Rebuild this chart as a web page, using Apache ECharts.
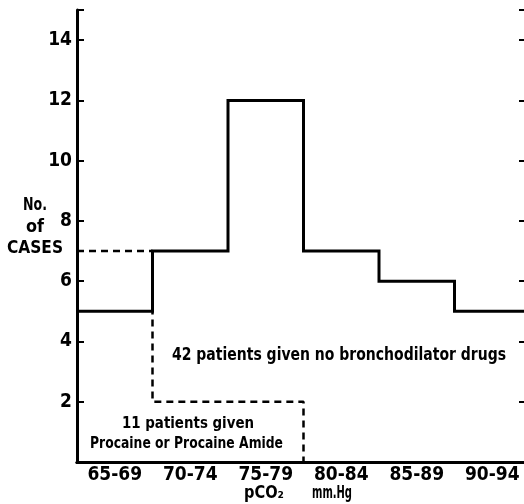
<!DOCTYPE html>
<html>
<head>
<meta charset="utf-8">
<script src="https://cdn.jsdelivr.net/npm/echarts@6/dist/echarts.min.js"></script>
<style>html,body{margin:0;padding:0;background:#fff;}#c{width:524px;height:504px;}</style>
</head>
<body>
<div id="c"></div>
<script>
const categories = ['65-69','70-74','75-79','80-84','85-89','90-94'];
const noDrugCases = [5, 7, 12, 7, 6, 5];
const procaineCases = [7, 2, 2];
const yTicks = [2, 4, 6, 8, 10, 12, 14];
const yTitle = ['No.', 'of', 'CASES'];
const xTitle = ['pCO₂', 'mm.Hg'];
const noteMain = '42 patients given no bronchodilator drugs';
const noteProcaine = ['11 patients given', 'Procaine or Procaine Amide'];

const FONT = '"DejaVu Sans", sans-serif';
const W = 'bold condensed';

const mctx = document.createElement('canvas').getContext('2d');
function fitText(text, size, x, y, targetW, sy) {
  const font = W + ' ' + size + 'px ' + FONT;
  mctx.font = font;
  const w = mctx.measureText(text).width;
  const s = targetW / w;
  return {
    type: 'text', x: x, y: y, scaleX: s, scaleY: sy || 1, originX: 0, originY: 0,
    style: {text: text, fill: '#000', font: font, align: 'left', verticalAlign: 'middle'}
  };
}

function stepPoints(vals, closeToZero) {
  const pts = [];
  vals.forEach((v, i) => { pts.push([i, v]); pts.push([i + 1, v]); });
  if (closeToZero) pts.push([vals.length, 0]);
  return pts;
}

const chart = echarts.init(document.getElementById('c'), null, {renderer: 'canvas'});
chart.setOption({
  animation: false,
  grid: {left: 77, top: 10, width: 453, height: 452, outerBoundsMode: 'none', containLabel: false},
  xAxis: [
    {
      type: 'category', data: categories, position: 'bottom', boundaryGap: true,
      axisLine: {lineStyle: {color: '#000', width: 3}},
      axisTick: {inside: true, length: 6, lineStyle: {color: '#000', width: 2}},
      axisLabel: {interval: 0, color: '#000', fontFamily: FONT, fontWeight: W, fontSize: 19, margin: 4}
    },
    {
      type: 'category', data: categories, position: 'top', boundaryGap: true,
      axisLine: {lineStyle: {color: '#000', width: 3}},
      axisTick: {inside: true, length: 6, lineStyle: {color: '#000', width: 2}},
      axisLabel: {show: false}
    },
    {
      type: 'value', min: 0, max: categories.length, show: false
    }
  ],
  yAxis: [
    {
      type: 'value', min: 0, max: 15, interval: 2, position: 'left',
      splitLine: {show: false},
      axisLine: {show: true, lineStyle: {color: '#000', width: 3}},
      axisTick: {show: true, inside: true, length: 7, lineStyle: {color: '#000', width: 2}},
      axisLabel: {color: '#000', fontFamily: FONT, fontWeight: W, fontSize: 19, margin: 5,
        formatter: v => (yTicks.indexOf(v) >= 0 ? String(v) : '')}
    },
    {
      type: 'value', min: 0, max: 15, interval: 2, position: 'right',
      splitLine: {show: false},
      axisLine: {show: true, lineStyle: {color: '#000', width: 3}},
      axisTick: {show: true, inside: true, length: 11, lineStyle: {color: '#000', width: 2}},
      axisLabel: {show: false}
    }
  ],
  series: [
    {
      type: 'line', xAxisIndex: 2, yAxisIndex: 0, data: stepPoints(noDrugCases, false),
      symbol: 'none', lineStyle: {color: '#000', width: 3, join: 'miter'}, z: 3
    },
    {
      type: 'line', xAxisIndex: 2, yAxisIndex: 0, data: stepPoints(procaineCases, true),
      symbol: 'none', lineStyle: {color: '#000', width: 2.5, type: [7, 5]}, z: 2
    }
  ],
  graphic: [
    fitText(yTitle[0], 18, 23, 205, 24),
    fitText(yTitle[1], 17, 26, 228, 18),
    fitText(yTitle[2], 18, 7, 248, 56),
    fitText(noteMain, 17, 172, 356, 334),
    fitText(noteProcaine[0], 16, 122, 424, 132),
    fitText(noteProcaine[1], 15, 90, 444, 193, 1.05),
    fitText(xTitle[0], 17, 244, 494, 40),
    fitText(xTitle[1], 17, 312, 494, 40)
  ]
});
</script>
</body>
</html>
